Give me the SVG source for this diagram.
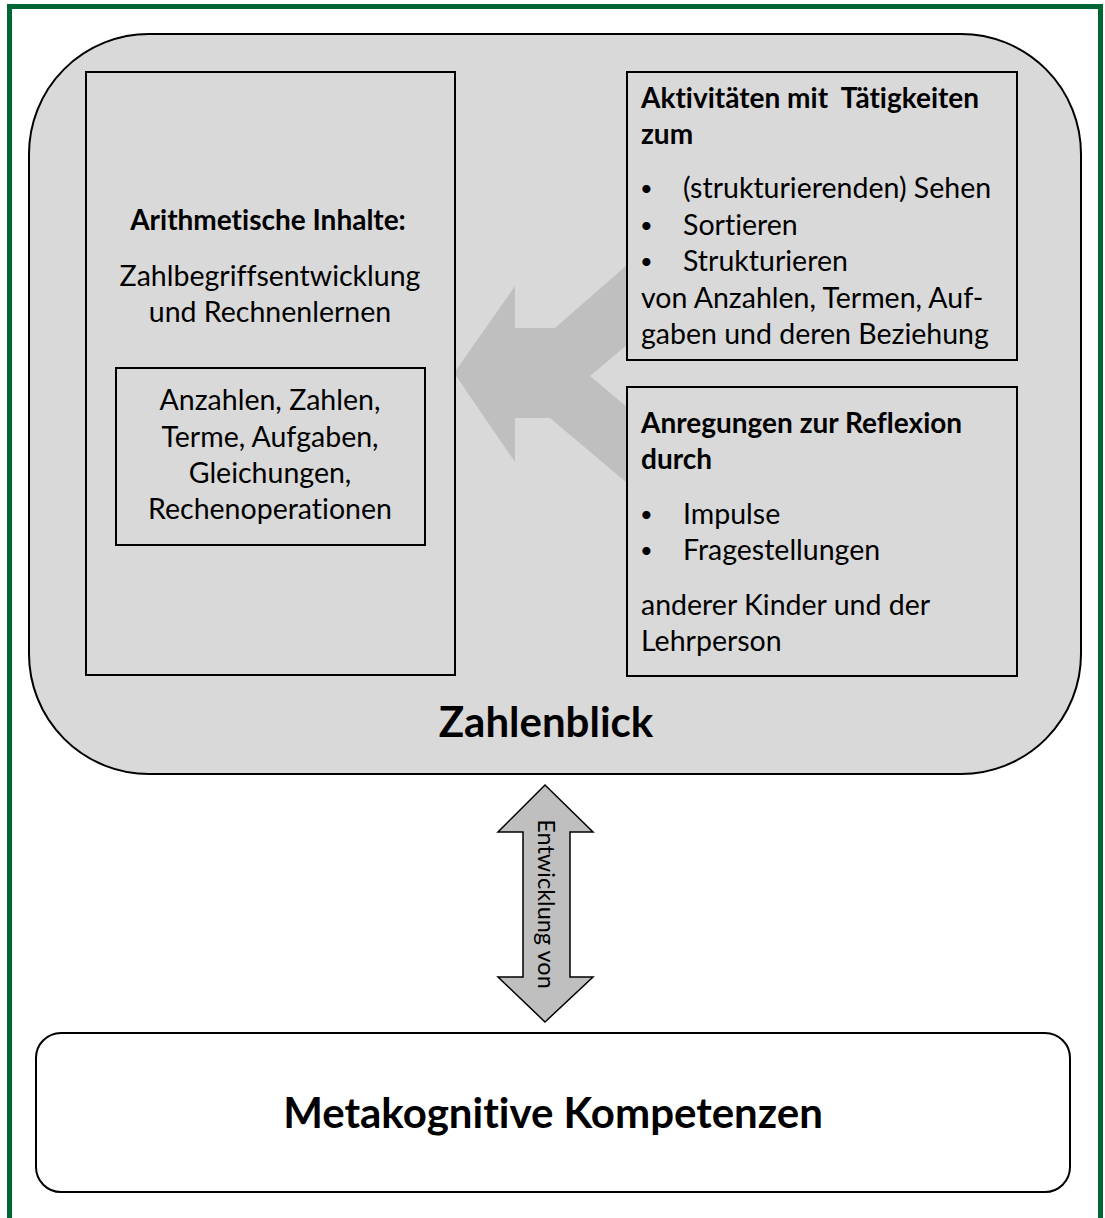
<svg xmlns="http://www.w3.org/2000/svg" width="1105" height="1218" viewBox="0 0 1105 1218">
<style>
text{font-family:Lato,"Open Sans","Liberation Sans",sans-serif;fill:#000;font-variant-ligatures:none}
.t{font-size:28.5px}
.u{font-size:22px}
.b{font-size:28px;font-weight:bold}
.big{font-size:42px;font-weight:bold}
.box{fill:#d9d9d9;stroke:#000;stroke-width:2}
.c{text-anchor:middle}
</style>
<rect x="0" y="0" width="1105" height="1218" fill="#fff"/>
<rect x="9.5" y="6.5" width="1091" height="1220" fill="none" stroke="#006633" stroke-width="5"/>
<g id="zahlenblick">
<rect x="29" y="34" width="1052" height="740" rx="120" ry="120" fill="#d9d9d9" stroke="#000" stroke-width="2"/>
<text class="big c" x="546" y="737">Zahlenblick</text>
</g>
<g id="connectors">
<polygon points="454,373 515,286 515,328 555,328 627,265 627,345 590,376 627,407 627,483 550,418 515,418 515,462" fill="#bfbfbf"/>
<polygon points="545,785 593,832 570,832 570,977 593,977 545,1022 498,977 523,977 523,832 498,832" fill="#bfbfbf" stroke="#000" stroke-width="1.5" stroke-linejoin="miter"/>
<text transform="translate(538,904) rotate(90)" class="c" style="font-size:23.5px">Entwicklung von</text>
</g>
<g id="arithmetik">
<rect class="box" x="86" y="72" width="369" height="603"/>
<text class="b c" x="268" y="230">Arithmetische Inhalte:</text>
<text class="t c" x="270" y="286">Zahlbegriffsentwicklung</text>
<text class="t c" x="270" y="322">und Rechnenlernen</text>
</g>
<g id="inhalte">
<rect class="box" x="116" y="368" width="309" height="177"/>
<text class="t c" x="270" y="410">Anzahlen, Zahlen,</text>
<text class="t c" x="270" y="447">Terme, Aufgaben,</text>
<text class="t c" x="270" y="483">Gleichungen,</text>
<text class="t c" x="270" y="519">Rechenoperationen</text>
</g>
<g id="aktivitaeten">
<rect class="box" x="627" y="72" width="390" height="288"/>
<text class="b" x="641" y="108" xml:space="preserve">Aktivitäten mit  Tätigkeiten</text>
<text class="b" x="641" y="144">zum</text>
<text class="u" x="640" y="196">•</text><text class="t" x="683" y="198">(strukturierenden) Sehen</text>
<text class="u" x="640" y="233">•</text><text class="t" x="683" y="235">Sortieren</text>
<text class="u" x="640" y="269">•</text><text class="t" x="683" y="271">Strukturieren</text>
<text class="t" x="641" y="308">von Anzahlen, Termen, Auf-</text>
<text class="t" x="641" y="344">gaben und deren Beziehung</text>
</g>
<g id="reflexion">
<rect class="box" x="627" y="387" width="390" height="289"/>
<text class="b" x="641" y="433">Anregungen zur Reflexion</text>
<text class="b" x="641" y="469">durch</text>
<text class="u" x="640" y="522">•</text><text class="t" x="683" y="524">Impulse</text>
<text class="u" x="640" y="558">•</text><text class="t" x="683" y="560">Fragestellungen</text>
<text class="t" x="641" y="615">anderer Kinder und der</text>
<text class="t" x="641" y="651">Lehrperson</text>
</g>
<g id="metakognitiv">
<rect x="36" y="1033" width="1034" height="159" rx="25" ry="25" fill="#fff" stroke="#000" stroke-width="2"/>
<text class="big c" x="553" y="1128">Metakognitive Kompetenzen</text>
</g>
</svg>
